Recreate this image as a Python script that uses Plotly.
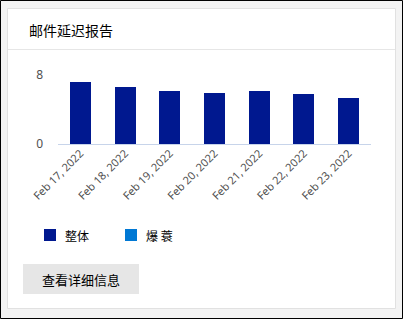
import plotly.graph_objects as go

dates = ["Feb 17, 2022", "Feb 18, 2022", "Feb 19, 2022", "Feb 20, 2022",
         "Feb 21, 2022", "Feb 22, 2022", "Feb 23, 2022"]
overall = [7.2, 6.6, 6.15, 5.9, 6.15, 5.8, 5.35]
burst = [0, 0, 0, 0, 0, 0, 0]
series_names = ["整体", "爆 蓑"]
series_colors = ["#00188F", "#0078D4"]
title_text = "邮件延迟报告"
button_text = "查看详细信息"

W, H = 403, 319
L, R, T, B = 58, 371, 75, 144


def px(x):
    return (x - L) / (R - L)


def py(y):
    return (B - y) / (B - T)


fig = go.Figure()
fig.add_trace(go.Bar(x=dates, y=overall, name=series_names[0],
                     marker=dict(color=series_colors[0], line=dict(width=0))))
fig.add_trace(go.Bar(x=dates, y=burst, name=series_names[1],
                     marker=dict(color=series_colors[1], line=dict(width=0))))

shapes = [
    dict(type="rect", xref="paper", yref="paper", x0=px(0.5), x1=px(402.5),
         y0=py(0.5), y1=py(318.5), line=dict(color="#000000", width=1),
         fillcolor="#f3f3f3", layer="below"),
    dict(type="rect", xref="paper", yref="paper", x0=px(7.5), x1=px(395.5),
         y0=py(8.5), y1=py(308.5), line=dict(color="#e1e1e1", width=1),
         fillcolor="#ffffff", layer="below"),
    dict(type="line", xref="paper", yref="paper", x0=px(8), x1=px(395),
         y0=py(49.5), y1=py(49.5), line=dict(color="#e6e6e6", width=1),
         layer="below"),
    dict(type="rect", xref="paper", yref="paper", x0=px(23), x1=px(139),
         y0=py(264), y1=py(294), line=dict(width=0),
         fillcolor="#e6e6e6", layer="below"),
]

annotations = [
    dict(text=title_text, xref="paper", yref="paper", x=px(27), y=py(30),
         xanchor="left", yanchor="middle", showarrow=False,
         font=dict(family="Noto Sans CJK SC", size=14, color="#000000")),
    dict(text=button_text, xref="paper", yref="paper", x=px(81), y=py(279),
         xanchor="center", yanchor="middle", showarrow=False,
         font=dict(family="Noto Sans CJK SC", size=13, color="#000000")),
]

# manual legend
legend_x = [44, 125]
for i, (name, col) in enumerate(zip(series_names, series_colors)):
    x0 = legend_x[i]
    shapes.append(dict(type="rect", xref="paper", yref="paper",
                       x0=px(x0), x1=px(x0 + 12), y0=py(229), y1=py(241),
                       line=dict(width=0), fillcolor=col))
    annotations.append(dict(text=name, xref="paper", yref="paper",
                            x=px(x0 + 19), y=py(235), xanchor="left",
                            yanchor="middle", showarrow=False,
                            font=dict(family="Noto Sans CJK SC", size=12,
                                      color="#000000")))

fig.update_layout(
    width=W, height=H,
    margin=dict(l=L, r=W - R, t=T, b=H - B, pad=0),
    paper_bgcolor="#f3f3f3",
    plot_bgcolor="rgba(0,0,0,0)",
    barmode="stack",
    bargap=0.53,
    showlegend=False,
    shapes=shapes,
    annotations=annotations,
    font=dict(family="Noto Sans", color="#555555"),
)

fig.update_xaxes(tickangle=-45, showgrid=False, showline=False, ticks="",
                 tickfont=dict(family="Noto Sans", size=11, color="#505050"))
fig.update_yaxes(range=[0, 8], dtick=8, tick0=0, showgrid=True,
                 gridcolor="#e1e1e1", gridwidth=1, zeroline=True,
                 zerolinecolor="#c7d4ea", zerolinewidth=1, showline=False,
                 ticks="", ticklabelstandoff=14,
                 tickfont=dict(family="Noto Sans", size=12, color="#505050"))

fig.write_html("out.html")
